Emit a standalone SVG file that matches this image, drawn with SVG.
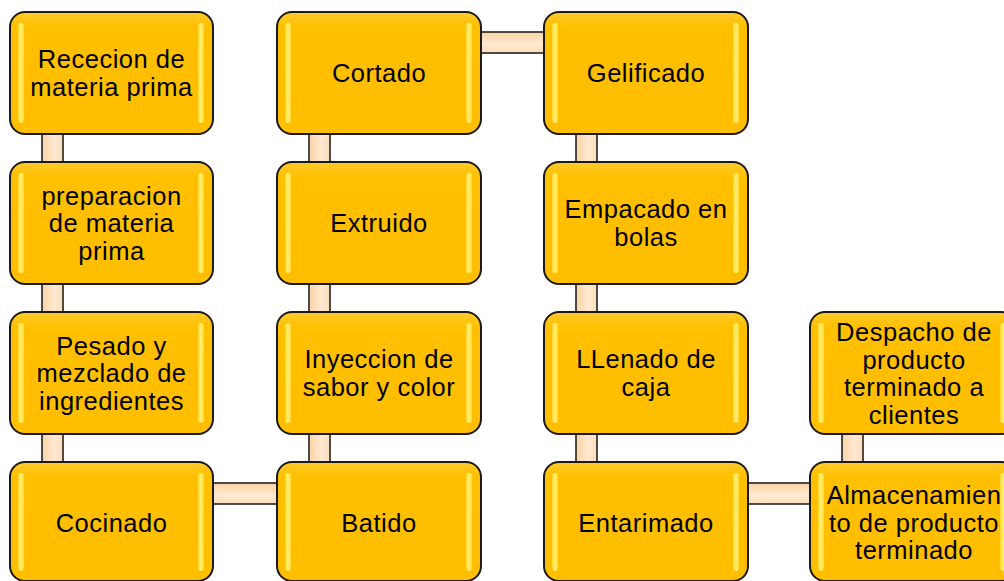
<svg xmlns="http://www.w3.org/2000/svg" width="1004" height="581" viewBox="0 0 1004 581">
<defs>
<linearGradient id="boxFill" x1="0" y1="0" x2="0" y2="1">
<stop offset="0" stop-color="#FFCB2E"/>
<stop offset="0.12" stop-color="#FFC000"/>
<stop offset="1" stop-color="#FFBE00"/>
</linearGradient>
<linearGradient id="strip" x1="0" y1="0" x2="1" y2="0">
<stop offset="0" stop-color="#FFE23A"/>
<stop offset="0.5" stop-color="#FFFF9E"/>
<stop offset="1" stop-color="#FFE23A"/>
</linearGradient>
<linearGradient id="connV" x1="0" y1="0" x2="1" y2="0">
<stop offset="0" stop-color="#FBD3A4"/>
<stop offset="0.6" stop-color="#FEE9D3"/>
<stop offset="1" stop-color="#FCDDB8"/>
</linearGradient>
<linearGradient id="connH" x1="0" y1="0" x2="0" y2="1">
<stop offset="0" stop-color="#FBD3A4"/>
<stop offset="0.6" stop-color="#FEE9D3"/>
<stop offset="1" stop-color="#FCDDB8"/>
</linearGradient>
</defs>
<style>
.box{fill:url(#boxFill);stroke:#1a1a1a;stroke-width:2}
.hl{fill:url(#strip);opacity:0.75}
.cv{fill:url(#connV);stroke:#222;stroke-width:1.6}
.ch{fill:url(#connH);stroke:#222;stroke-width:1.6}
text{font-family:"Liberation Sans",Arial,sans-serif;font-size:25.5px;letter-spacing:0.5px;fill:#000;text-anchor:middle}
</style>
<rect width="1004" height="581" fill="#fff"/>
<g id="connectors">
<rect class="cv" x="42" y="133" width="21" height="30"/>
<rect class="cv" x="42" y="283" width="21" height="30"/>
<rect class="cv" x="42" y="433" width="21" height="30"/>
<rect class="cv" x="309" y="133" width="21" height="30"/>
<rect class="cv" x="309" y="283" width="21" height="30"/>
<rect class="cv" x="309" y="433" width="21" height="30"/>
<rect class="cv" x="576" y="133" width="21" height="30"/>
<rect class="cv" x="576" y="283" width="21" height="30"/>
<rect class="cv" x="576" y="433" width="21" height="30"/>
<rect class="cv" x="842" y="433" width="21" height="30"/>
<rect class="ch" x="480" y="32" width="65" height="21"/>
<rect class="ch" x="212" y="483" width="66" height="21"/>
<rect class="ch" x="747" y="483" width="64" height="21"/>
</g>
<g id="n1"><rect class="box" x="10" y="12" width="203" height="122" rx="15"/><rect class="hl" x="18" y="23" width="6" height="100" rx="3"/><rect class="hl" x="198" y="23" width="6" height="100" rx="3"/><text x="111.5" y="68">Rececion de</text><text x="111.5" y="95.5">materia prima</text></g>
<g id="n2"><rect class="box" x="10" y="162" width="203" height="122" rx="15"/><rect class="hl" x="18" y="173" width="6" height="100" rx="3"/><rect class="hl" x="198" y="173" width="6" height="100" rx="3"/><text x="111.5" y="204.5">preparacion</text><text x="111.5" y="232">de materia</text><text x="111.5" y="259.5">prima</text></g>
<g id="n3"><rect class="box" x="10" y="312" width="203" height="122" rx="15"/><rect class="hl" x="18" y="323" width="6" height="100" rx="3"/><rect class="hl" x="198" y="323" width="6" height="100" rx="3"/><text x="111.5" y="354.5">Pesado y</text><text x="111.5" y="382">mezclado de</text><text x="111.5" y="409.5">ingredientes</text></g>
<g id="n4"><rect class="box" x="10" y="462" width="203" height="119" rx="15"/><rect class="hl" x="18" y="473" width="6" height="98" rx="3"/><rect class="hl" x="198" y="473" width="6" height="98" rx="3"/><text x="111.5" y="532">Cocinado</text></g>
<g id="n5"><rect class="box" x="277" y="12" width="204" height="122" rx="15"/><rect class="hl" x="285" y="23" width="6" height="100" rx="3"/><rect class="hl" x="466" y="23" width="6" height="100" rx="3"/><text x="379" y="82">Cortado</text></g>
<g id="n6"><rect class="box" x="277" y="162" width="204" height="122" rx="15"/><rect class="hl" x="285" y="173" width="6" height="100" rx="3"/><rect class="hl" x="466" y="173" width="6" height="100" rx="3"/><text x="379" y="232">Extruido</text></g>
<g id="n7"><rect class="box" x="277" y="312" width="204" height="122" rx="15"/><rect class="hl" x="285" y="323" width="6" height="100" rx="3"/><rect class="hl" x="466" y="323" width="6" height="100" rx="3"/><text x="379" y="368">Inyeccion de</text><text x="379" y="395.5">sabor y color</text></g>
<g id="n8"><rect class="box" x="277" y="462" width="204" height="119" rx="15"/><rect class="hl" x="285" y="473" width="6" height="98" rx="3"/><rect class="hl" x="466" y="473" width="6" height="98" rx="3"/><text x="379" y="532">Batido</text></g>
<g id="n9"><rect class="box" x="544" y="12" width="204" height="122" rx="15"/><rect class="hl" x="552" y="23" width="6" height="100" rx="3"/><rect class="hl" x="733" y="23" width="6" height="100" rx="3"/><text x="646" y="82">Gelificado</text></g>
<g id="n10"><rect class="box" x="544" y="162" width="204" height="122" rx="15"/><rect class="hl" x="552" y="173" width="6" height="100" rx="3"/><rect class="hl" x="733" y="173" width="6" height="100" rx="3"/><text x="646" y="218">Empacado en</text><text x="646" y="245.5">bolas</text></g>
<g id="n11"><rect class="box" x="544" y="312" width="204" height="122" rx="15"/><rect class="hl" x="552" y="323" width="6" height="100" rx="3"/><rect class="hl" x="733" y="323" width="6" height="100" rx="3"/><text x="646" y="368">LLenado de</text><text x="646" y="395.5">caja</text></g>
<g id="n12"><rect class="box" x="544" y="462" width="204" height="119" rx="15"/><rect class="hl" x="552" y="473" width="6" height="98" rx="3"/><rect class="hl" x="733" y="473" width="6" height="98" rx="3"/><text x="646" y="532">Entarimado</text></g>
<g id="n13"><rect class="box" x="810" y="312" width="206" height="122" rx="15"/><rect class="hl" x="818" y="323" width="6" height="100" rx="3"/><rect class="hl" x="1000" y="323" width="6" height="100" rx="3"/><text x="914" y="341">Despacho de</text><text x="914" y="368.5">producto</text><text x="914" y="396">terminado a</text><text x="914" y="423.5">clientes</text></g>
<g id="n14"><rect class="box" x="810" y="462" width="206" height="119" rx="15"/><rect class="hl" x="818" y="473" width="6" height="98" rx="3"/><rect class="hl" x="1000" y="473" width="6" height="98" rx="3"/><text x="914" y="504">Almacenamien</text><text x="914" y="531.5">to de producto</text><text x="914" y="559">terminado</text></g>
</svg>
